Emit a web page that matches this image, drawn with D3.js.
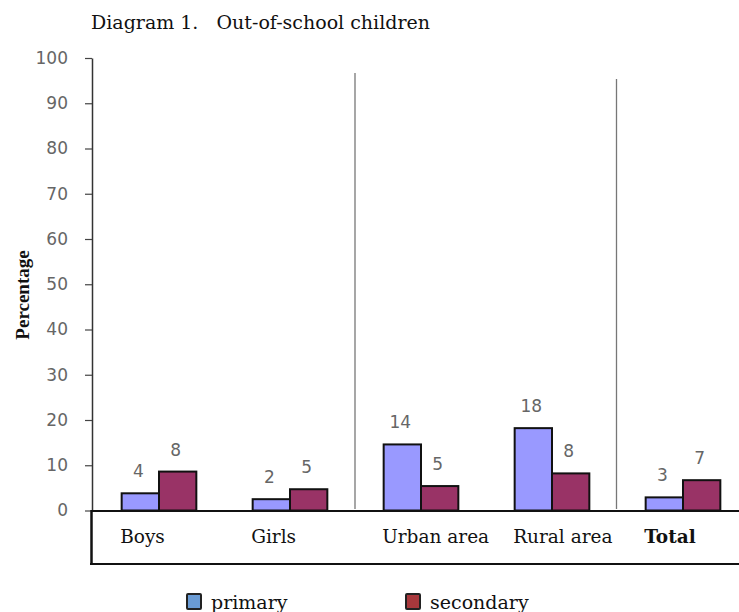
<!DOCTYPE html>
<html><head><meta charset="utf-8">
<script src="https://cdn.jsdelivr.net/npm/d3@7"></script>
<style>body{margin:0;background:#fff;}svg{display:block;}</style>
</head><body>
<svg id="chart" width="739" height="612"></svg>
<script>
const categories = ["Boys", "Girls", "Urban area", "Rural area", "Total"];
const series = ["primary", "secondary"];
const primaryValues = [3.8, 2.5, 14.6, 18.2, 2.9];
const secondaryValues = [8.6, 4.7, 5.4, 8.2, 6.7];
const primaryLabels = ["4", "2", "14", "18", "3"];
const secondaryLabels = ["8", "5", "5", "8", "7"];
const yTicks = [0, 10, 20, 30, 40, 50, 60, 70, 80, 90, 100];

const svg = d3.select("#chart");
const serif = "'DejaVu Serif', serif";
const sans = "'DejaVu Sans', sans-serif";

const y = d3.scaleLinear().domain([0, 100]).range([510.5, 58]);
const x = d3.scaleBand().domain(categories).range([93.5, 748.5]).paddingInner(0.43).paddingOuter(0.215);
const xs = d3.scaleBand().domain(series).range([0, x.bandwidth()]);
const fills = {primary: "#9999ff", secondary: "#993366"};
const legendFills = {primary: "#6a9bd4", secondary: "#a8383c"};

// title
svg.append("text").attr("x", 91).attr("y", 28.5).attr("font-family", serif).attr("font-size", 19)
  .attr("fill", "#111").attr("xml:space", "preserve").text("Diagram 1.   Out-of-school children");

// y axis
const yAxis = d3.axisLeft(y).tickValues(yTicks).tickSize(7).tickPadding(17).tickSizeOuter(0);
const ga = svg.append("g").attr("transform", "translate(92,0)").call(yAxis);
ga.select(".domain").attr("stroke", "#333").attr("stroke-width", 1.5);
ga.selectAll(".tick line").attr("stroke", "#444").attr("stroke-width", 1.2);
ga.selectAll(".tick text").attr("font-family", sans).attr("font-size", 17).attr("fill", "#666");

// separators
const seps = [{x: 355, top: 73}, {x: 616.5, top: 79}];
svg.selectAll("line.sep").data(seps).enter().append("line")
  .attr("x1", d => d.x).attr("x2", d => d.x).attr("y1", d => d.top).attr("y2", 509)
  .attr("stroke", "#777").attr("stroke-width", 1.3);

// bars
const rows = categories.map((c, i) => ({cat: c, vals: [
  {s: "primary", v: primaryValues[i], lab: primaryLabels[i]},
  {s: "secondary", v: secondaryValues[i], lab: secondaryLabels[i]}]}));
const g = svg.selectAll("g.grp").data(rows).enter().append("g").attr("transform", d => `translate(${x(d.cat)},0)`);
g.selectAll("rect").data(d => d.vals).enter().append("rect")
  .attr("x", d => xs(d.s)).attr("width", xs.bandwidth())
  .attr("y", d => y(d.v)).attr("height", d => y(0) - y(d.v))
  .attr("fill", d => fills[d.s]).attr("stroke", "#111").attr("stroke-width", 2);
g.selectAll("text.val").data(d => d.vals).enter().append("text")
  .attr("x", d => xs(d.s) + xs.bandwidth() / 2 - 2).attr("y", d => y(d.v) - 16)
  .attr("text-anchor", "middle").attr("font-family", sans).attr("font-size", 17).attr("fill", "#666")
  .text(d => d.lab);

// box below axis
svg.append("line").attr("x1", 91).attr("x2", 739).attr("y1", 511).attr("y2", 511).attr("stroke", "#111").attr("stroke-width", 2.2);
svg.append("line").attr("x1", 91.5).attr("x2", 91.5).attr("y1", 510).attr("y2", 565).attr("stroke", "#111").attr("stroke-width", 2.5);
svg.append("line").attr("x1", 90).attr("x2", 739).attr("y1", 564).attr("y2", 564).attr("stroke", "#111").attr("stroke-width", 2);

// category labels
svg.selectAll("text.cat").data(categories).enter().append("text")
  .attr("x", d => x(d) - 1.5).attr("y", 542.5)
  .attr("font-family", serif).attr("font-size", 18.5).attr("fill", "#111")
  .attr("font-weight", d => d === "Total" ? "bold" : "normal")
  .text(d => d);

// y label
svg.append("text").attr("transform", "translate(29,295) rotate(-90)").attr("text-anchor", "middle")
  .attr("font-family", "'Liberation Serif', serif").attr("font-weight", "bold").attr("font-size", 19)
  .attr("fill", "#111").text("Percentage");

// legend
const legendX = {primary: 187, secondary: 406};
const lg = svg.selectAll("g.leg").data(series).enter().append("g").attr("transform", d => `translate(${legendX[d]},594)`);
lg.append("rect").attr("width", 14).attr("height", 15).attr("fill", d => legendFills[d]).attr("stroke", "#222").attr("stroke-width", 2).attr("rx", 1);
lg.append("text").attr("x", 24).attr("y", 14.5).attr("font-family", serif).attr("font-size", 19).attr("fill", "#111").text(d => d);
</script>
</body></html>
